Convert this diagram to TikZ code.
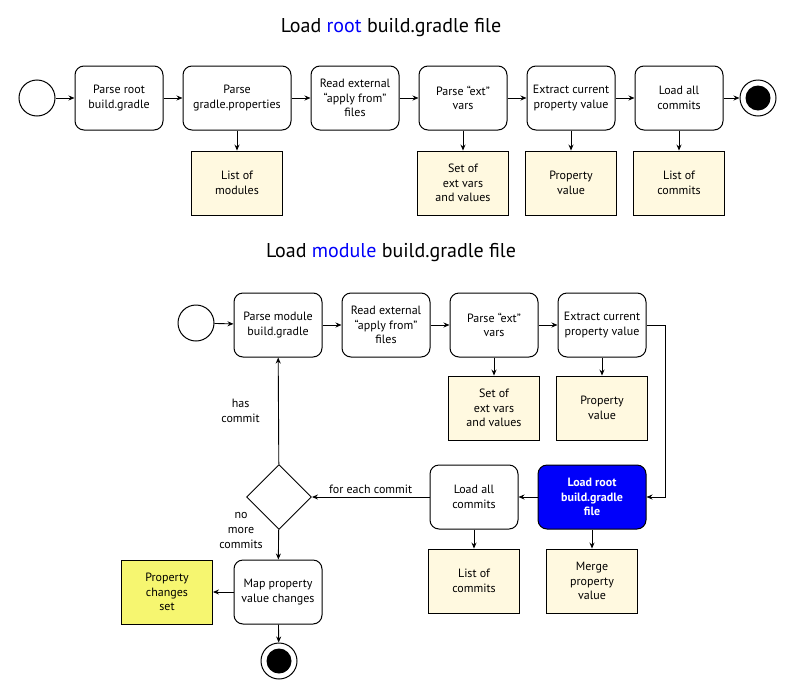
\documentclass[tikz,border=0pt]{standalone}
\usepackage{fontspec}
\setmainfont{PT Sans}
\usetikzlibrary{shapes.geometric,arrows.meta}

\definecolor{notefill}{RGB}{255,249,224}
\definecolor{resultfill}{RGB}{246,246,112}
\definecolor{loadblue}{RGB}{0,0,250}

\tikzset{
    action box/.style={
        draw,line width=1pt,rounded corners=9pt,fill=white,
        minimum width=88pt,minimum height=64pt,
        align=center,inner sep=2pt,
        font=\fontsize{12}{14.5}\selectfont
    },
    data box/.style={
        draw,line width=0.9pt,fill=notefill,
        minimum width=91pt,minimum height=64pt,
        align=center,inner sep=2pt,
        font=\fontsize{12}{14.5}\selectfont
    },
    start state/.style={circle,draw,line width=1pt,minimum size=36pt,inner sep=0pt},
    end state/.style={
        circle,draw,line width=1pt,minimum size=36pt,inner sep=0pt,
        path picture={\fill (path picture bounding box.center) circle (12.5pt);}
    },
    decision/.style={diamond,draw,line width=0.9pt,aspect=1,minimum size=65pt,inner sep=0pt},
    edge label/.style={align=center,font=\fontsize{12}{15}\selectfont},
    diagram title/.style={font=\fontsize{20}{24}\selectfont}
}

\begin{document}
\begin{tikzpicture}[x=1pt,y=-1pt,line width=0.9pt,>={Stealth[length=6pt,width=5pt]}]
    \useasboundingbox (0,0) rectangle (800,699);

    % root build.gradle
    \node[diagram title] (roottitle) at (391,28) {Load \textcolor{loadblue}{root} build.gradle file};
    \node[start state] (tstart) at (37,98) {};
    \node[action box,minimum width=108pt] (tprops) at (237,98) {Parse\\gradle.properties};
    \foreach \x/\name/\txt in {119/tparse/{Parse root\\build.gradle},
            355/tapply/{Read external\\“apply from”\\files},
            463/tvars/{Parse “ext”\\vars},
            571/textract/{Extract current\\property value},
            679/tcommits/{Load all\\commits}}
        \node[action box] (\name) at (\x,98) {\txt};
    \node[end state] (tend) at (758,98) {};
    \foreach \x/\name/\txt in {237/tmodules/{List of\\modules},
            463/tvarset/{Set of\\ext vars\\and values},
            571/tvalue/{Property\\value},
            679/tlist/{List of\\commits}}
        \node[data box] (\name) at (\x,183) {\txt};
    \foreach \a/\b in {tstart/tparse,tparse/tprops,tprops/tapply,tapply/tvars,
            tvars/textract,textract/tcommits,tcommits/tend,
            tprops/tmodules,tvars/tvarset,textract/tvalue,tcommits/tlist}
        \draw[->] (\a) -- (\b);

    % module build.gradle
    \node[diagram title] (moduletitle) at (391,253) {Load \textcolor{loadblue}{module} build.gradle file};
    \node[start state] (mstart) at (196,323) {};
    \foreach \x/\name/\txt in {278/mparse/{Parse module\\build.gradle},
            386/mapply/{Read external\\“apply from”\\files},
            494/mvars/{Parse “ext”\\vars},
            602/mextract/{Extract current\\property value}}
        \node[action box] (\name) at (\x,325) {\txt};
    \node[data box] (mvarset) at (494,408) {Set of\\ext vars\\and values};
    \node[data box] (mvalue) at (602,408) {Property\\value};

    \node[action box,minimum width=108pt,fill=loadblue,text=white,font=\fontsize{12}{14.5}\selectfont\bfseries]
        (mroot) at (592,497) {Load root\\build.gradle\\file};
    \node[action box] (mcommits) at (474,497) {Load all\\commits};
    \node[decision] (mdecide) at (279,497) {};
    \node[data box] (mlist) at (474,581) {List of\\commits};
    \node[data box] (mmerge) at (592,581) {Merge\\property\\value};
    \node[action box] (mmap) at (278,592) {Map property\\value changes};
    \node[data box,fill=resultfill] (mset) at (167,592) {Property\\changes\\set};
    \node[end state] (mend) at (279,661) {};
    \node[edge label] (nomore) at (241,530) {no\\more\\commits};

    \foreach \a/\b in {mstart/mparse,mparse/mapply,mapply/mvars,mvars/mextract,
            mvars/mvarset,mextract/mvalue,mroot/mcommits,mcommits/mlist,mroot/mmerge,
            mdecide/mmap,mmap/mset,mmap/mend}
        \draw[->] (\a) -- (\b);
    \draw[->] (mextract.east) -- ++(19,0) |- (mroot.east);
    \draw[->] (mcommits) -- node[edge label,above] (foreach) {for each commit} (mdecide);
    \draw[->] (mdecide) -- node[edge label,left=15pt] (hascommit) {has\\commit} (mparse);
\end{tikzpicture}
\end{document}
